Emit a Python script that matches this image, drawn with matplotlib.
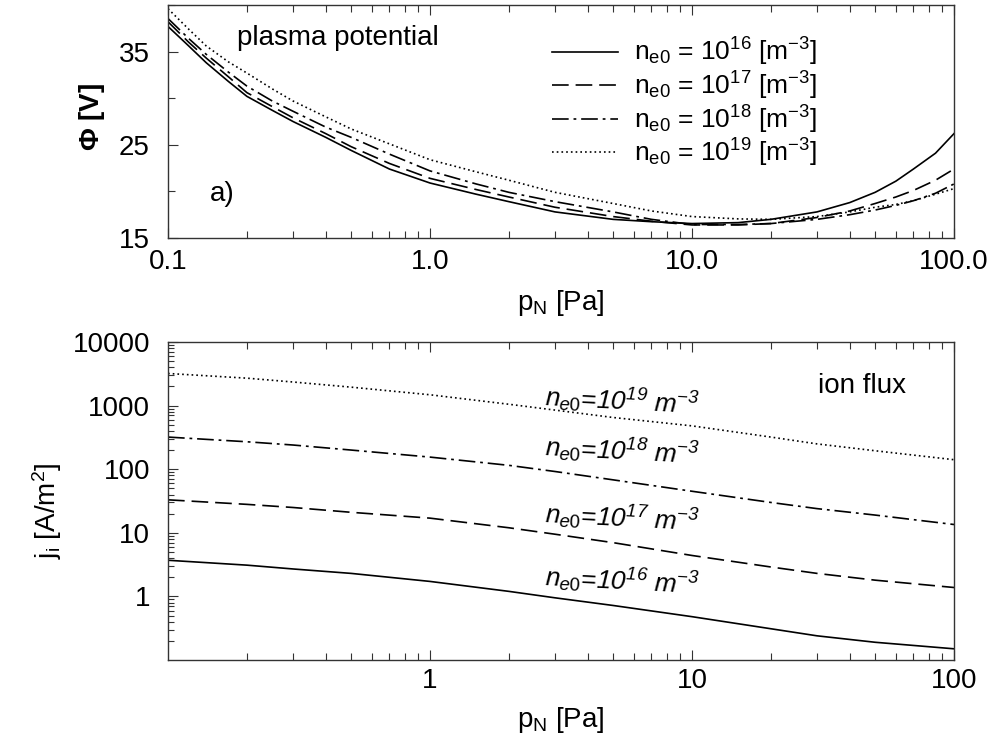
import matplotlib
matplotlib.use("Agg")
import matplotlib.pyplot as plt
from matplotlib.ticker import LogLocator, FixedLocator, FixedFormatter, NullFormatter, MultipleLocator

plt.rcParams['font.family'] = ['Liberation Sans', 'DejaVu Sans']
plt.rcParams['mathtext.fontset'] = 'custom'
plt.rcParams['mathtext.rm'] = 'Liberation Sans'
plt.rcParams['mathtext.it'] = 'Liberation Sans:italic'
plt.rcParams['mathtext.bf'] = 'Liberation Sans:bold'
plt.rcParams['mathtext.default'] = 'regular'
plt.rcParams['lines.scale_dashes'] = False

# ---------------- data: plasma potential ----------------
p_phi = [0.1, 0.12, 0.14, 0.17, 0.2, 0.25, 0.3, 0.4, 0.5, 0.7, 1.0, 1.5, 2.0, 3.0, 5.0, 7.0,
         10.0, 15.0, 20.0, 30.0, 40.0, 50.0, 60.0, 70.0, 85.0, 100.0]
phi_16 = [37.7, 35.6, 33.8, 31.8, 30.2, 28.7, 27.5, 25.8, 24.4, 22.4, 20.9, 19.7, 18.9, 17.8, 17.0, 16.75,
          16.55, 16.65, 17.0, 17.8, 18.8, 19.9, 21.1, 22.4, 24.1, 26.2]
phi_17 = [38.2, 36.0, 34.3, 32.3, 30.6, 29.1, 27.9, 26.2, 24.8, 23.0, 21.4, 20.2, 19.4, 18.3, 17.3, 16.8,
          16.4, 16.4, 16.55, 17.2, 17.9, 18.7, 19.4, 20.1, 21.2, 22.4]
phi_18 = [38.55, 36.4, 34.7, 32.8, 31.3, 29.7, 28.6, 26.9, 25.8, 24.0, 22.2, 20.8, 19.9, 18.9, 17.8, 17.0,
          16.45, 16.45, 16.55, 17.0, 17.5, 18.0, 18.5, 19.0, 19.8, 20.8]
phi_19 = [39.6, 37.4, 35.6, 33.9, 32.7, 31.0, 29.7, 28.0, 26.7, 25.1, 23.4, 22.1, 21.2, 19.9, 18.7, 17.9,
          17.3, 17.05, 17.0, 17.3, 17.8, 18.3, 18.6, 19.0, 19.7, 20.3]

# ---------------- data: ion flux ----------------
p_j = [0.1, 0.2, 0.3, 0.5, 1.0, 2.0, 3.0, 5.0, 10.0, 20.0, 30.0, 50.0, 100.0]
j_16 = [3.7, 3.1, 2.7, 2.3, 1.72, 1.2, 0.95, 0.72, 0.48, 0.31, 0.24, 0.19, 0.15]
j_17 = [33, 28, 25, 21, 17, 12, 9.5, 7.0, 4.4, 2.9, 2.3, 1.8, 1.38]
j_18 = [320, 270, 240, 200, 155, 115, 92, 68, 45, 30, 24, 19, 13.5]
j_19 = [3200, 2700, 2350, 1950, 1480, 1050, 850, 650, 480, 320, 250, 195, 141]

exponents = ['16', '17', '18', '19']
styles = ['-', (0, (12, 5)), (0, (12, 3.5, 2, 3.5)), (0, (1.2, 2.2))]
legend_labels = [r'n$_{e0}$ = 10$^{%s}$ [m$^{-3}$]' % e for e in exponents]
flux_labels = [r'$\mathit{n_{e0}}$=10$^{%s}$ m$^{-3}$' % e for e in exponents]
flux_label_pos = [(2.75, 2.0), (2.75, 19.3), (2.75, 217), (2.75, 1370)]

W, H = 993, 742
fig = plt.figure(figsize=(W / 100, H / 100), dpi=100)

def frac(x0, y0, x1, y1):
    return [x0 / W, 1 - y1 / H, (x1 - x0) / W, (y1 - y0) / H]

fs = 20
lw = 1.2

# ---------------- top axes ----------------
ax1 = fig.add_axes(frac(168, 5, 954, 238))
for y, st, lab in zip([phi_16, phi_17, phi_18, phi_19], styles, legend_labels):
    ax1.plot(p_phi, y, color='black', linestyle=st, lw=lw, label=lab)
ax1.set_xscale('log')
ax1.set_xlim(0.1, 100)
ax1.set_ylim(15, 40)
ax1.xaxis.set_major_locator(FixedLocator([0.1, 1, 10, 100]))
ax1.xaxis.set_major_formatter(FixedFormatter(['0.1', '1.0', '10.0', '100.0']))
ax1.xaxis.set_minor_locator(LogLocator(base=10, subs=range(2, 10)))
ax1.xaxis.set_minor_formatter(NullFormatter())
ax1.yaxis.set_major_locator(FixedLocator([15, 25, 35]))
ax1.yaxis.set_minor_locator(MultipleLocator(5))
ax1.tick_params(which='both', direction='in', top=True, right=False, labelsize=fs, width=0.8, color='#333333')
ax1.tick_params(which='major', length=7)
ax1.tick_params(which='minor', length=5)
ax1.tick_params(axis='x', which='major', pad=8)
ax1.tick_params(axis='y', which='major', pad=13)
ax1.set_xlabel(r'p$_{N}$ [Pa]', fontsize=fs, labelpad=9)
ax1.set_ylabel(r'$\Phi$ [V]', fontsize=fs, fontweight='bold')
ax1.yaxis.set_label_coords(-0.078, 0.52)
ax1.text(0.088, 0.83, 'plasma potential', transform=ax1.transAxes, fontsize=fs)
ax1.text(0.053, 0.16, 'a)', transform=ax1.transAxes, fontsize=fs)
leg = ax1.legend(loc='upper left', bbox_to_anchor=(0.465, 0.945), frameon=False, fontsize=19,
                 handlelength=2.5, handletextpad=0.6, labelspacing=0.05, borderpad=0.2)

# ---------------- bottom axes ----------------
ax2 = fig.add_axes(frac(168, 342, 954, 660))
for y, st in zip([j_16, j_17, j_18, j_19], styles):
    ax2.plot(p_j, y, color='black', linestyle=st, lw=lw)
ax2.set_xscale('log')
ax2.set_yscale('log')
ax2.set_xlim(0.1, 100)
ax2.set_ylim(0.1, 10000)
ax2.xaxis.set_major_locator(FixedLocator([1, 10, 100]))
ax2.xaxis.set_major_formatter(FixedFormatter(['1', '10', '100']))
ax2.xaxis.set_minor_locator(LogLocator(base=10, subs=range(2, 10)))
ax2.xaxis.set_minor_formatter(NullFormatter())
ax2.yaxis.set_major_locator(FixedLocator([1, 10, 100, 1000, 10000]))
ax2.yaxis.set_major_formatter(FixedFormatter(['1', '10', '100', '1000', '10000']))
ax2.yaxis.set_minor_locator(LogLocator(base=10, subs=range(2, 10)))
ax2.yaxis.set_minor_formatter(NullFormatter())
ax2.tick_params(which='both', direction='in', top=True, right=False, labelsize=fs, width=0.8, color='#333333')
ax2.tick_params(which='major', length=7)
ax2.tick_params(which='minor', length=5)
ax2.tick_params(axis='y', which='minor', length=4)
ax2.tick_params(axis='x', which='major', pad=6)
ax2.tick_params(axis='y', which='major', pad=13)
ax2.set_xlabel(r'p$_{N}$ [Pa]', fontsize=fs, labelpad=8)
ax2.set_ylabel(r'j$_{i}$ [A/m$^{2}$]', fontsize=fs)
ax2.yaxis.set_label_coords(-0.132, 0.47)
ax2.text(0.827, 0.84, 'ion flux', transform=ax2.transAxes, fontsize=fs)
for (x, y), lab in zip(flux_label_pos, flux_labels):
    ax2.text(x, y, lab, fontsize=19, style='italic', ha='left', va='center',
             rotation=-3, rotation_mode='anchor')

for ax in (ax1, ax2):
    for s in ax.spines.values():
        s.set_linewidth(1.0)
        s.set_color('#333333')

fig.savefig('out.png', dpi=100)
